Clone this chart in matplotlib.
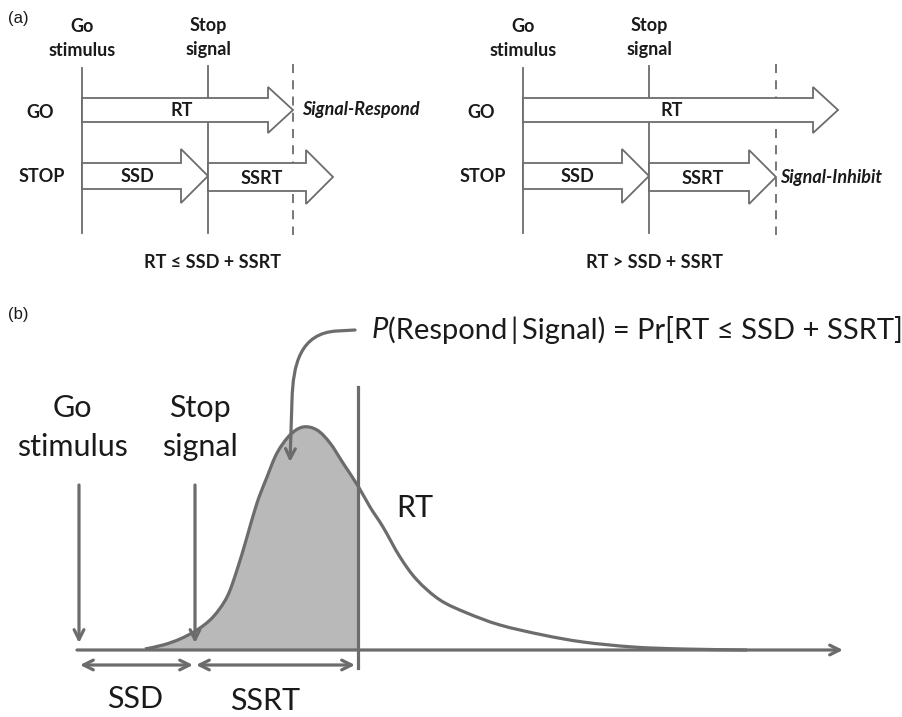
import matplotlib.pyplot as plt
import numpy as np
from matplotlib.patches import Polygon, FancyArrowPatch, PathPatch
from matplotlib.path import Path

plt.rcParams['font.family'] = ['Lato', 'DejaVu Sans']

# ---- panel (a): two timelines (pixel positions) ----
go_x = [82, 523]
stop_x = [208, 649]
dash_x = [293, 776]
rt_tip = [293, 838]
ssrt_tip = [333, 776]
rt_label_x = [182, 672]
ssd_label_x = [137, 577]
ssrt_label_x = [262, 703]
row_label_x = [40, 481]
outcome = ['Signal-Respond', 'Signal-Inhibit']
outcome_x = [302, 780]
outcome_y = [110, 177]
rule = ['RT ≤ SSD + SSRT', 'RT > SSD + SSRT']
rule_x = [213, 655]

# ---- panel (b): RT density (pixel coords of the drawn curve) ----
curve_x = np.array([145, 163, 180, 197, 213, 227, 237, 247, 257, 267, 277, 290, 303,
                    317, 330, 343, 358, 370, 383, 400, 417, 440, 467, 500, 543, 583,
                    633, 683, 747])
curve_y = np.array([649, 645, 639, 630, 617, 597, 570, 537, 503, 477, 453, 435, 427,
                    430, 443, 463, 486, 507, 527, 557, 580, 600, 613, 625, 635, 642,
                    647, 649, 650])
go_b, stop_b, cut_b = 79, 195, 358
base_y = 650

grey = '#6c6c6c'
ink = '#1a1a1a'

fig = plt.figure(figsize=(9.02, 7.17), dpi=100)
ax = fig.add_axes([0, 0, 1, 1])
ax.set_xlim(0, 902)
ax.set_ylim(717, 0)
ax.axis('off')


def block_arrow(x0, x1, yc, body, head, hlen):
    xh = x1 - hlen
    pts = [(x0, yc - body), (xh, yc - body), (xh, yc - head), (x1, yc),
           (xh, yc + head), (xh, yc + body), (x0, yc + body)]
    ax.add_patch(Polygon(pts, closed=True, facecolor='white', edgecolor=grey,
                         lw=1.3, zorder=3))


def smooth_path(xs, ys):
    # Catmull-Rom through the read points, as cubic Bezier segments
    pts = np.column_stack([xs, ys]).astype(float)
    verts = [pts[0]]
    codes = [Path.MOVETO]
    for i in range(len(pts) - 1):
        p0 = pts[max(i - 1, 0)]
        p1, p2 = pts[i], pts[i + 1]
        p3 = pts[min(i + 2, len(pts) - 1)]
        verts += [p1 + (p2 - p0) / 6, p2 - (p3 - p1) / 6, p2]
        codes += [Path.CURVE4] * 3
    return verts, codes


bold = dict(fontweight='bold', fontsize=13, color=ink, ha='center', va='center')
for i in range(2):
    ax.plot([go_x[i], go_x[i]], [68, 233], color=grey, lw=1.3, zorder=1)
    ax.plot([stop_x[i], stop_x[i]], [66, 233], color=grey, lw=1.3, zorder=1)
    ax.plot([dash_x[i], dash_x[i]], [64, 235], color=grey, lw=1.3, ls=(0, (5, 4)), zorder=1)
    block_arrow(go_x[i], rt_tip[i], 110, 12, 23, 25)
    block_arrow(go_x[i], stop_x[i], 176, 13, 27, 27)
    block_arrow(stop_x[i], ssrt_tip[i], 177, 14, 27, 27)
    ax.text(go_x[i], 27, 'Go', **bold)
    ax.text(go_x[i], 50, 'stimulus', **bold)
    ax.text(stop_x[i], 26, 'Stop', **bold)
    ax.text(stop_x[i], 49, 'signal', **bold)
    ax.text(row_label_x[i], 113, 'GO', **bold)
    ax.text(row_label_x[i] + 2, 176, 'STOP', **bold)
    ax.text(rt_label_x[i], 111, 'RT', zorder=4, **bold)
    ax.text(ssd_label_x[i], 176, 'SSD', zorder=4, **bold)
    ax.text(ssrt_label_x[i], 178, 'SSRT', zorder=4, **bold)
    ax.text(outcome_x[i], outcome_y[i], outcome[i], fontweight='bold', style='italic',
            fontsize=13, color=ink, ha='left', va='center')
    ax.text(rule_x[i], 262, rule[i], **bold)

ax.text(8, 18, '(a)', fontsize=12, family='Liberation Sans', color=ink, va='center')
ax.text(8, 315, '(b)', fontsize=12, family='Liberation Sans', color=ink, va='center')

# ---- panel (b) drawing ----
lw = 2.3
verts, codes = smooth_path(curve_x, curve_y)
n_cut = int(np.searchsorted(curve_x, cut_b))  # index of the point on the cut line
fill_v = verts[:3 * n_cut + 1] + [(cut_b, base_y), (curve_x[0], base_y), verts[0]]
fill_c = codes[:3 * n_cut + 1] + [Path.LINETO, Path.LINETO, Path.CLOSEPOLY]
ax.add_patch(PathPatch(Path(fill_v, fill_c), facecolor='#b9b9b9', lw=0, zorder=1))
ax.add_patch(PathPatch(Path(verts, codes), facecolor='none', edgecolor=grey, lw=lw,
                       zorder=3))

head = '->,head_length=0.7,head_width=0.35'
ax.annotate('', xy=(843, base_y), xytext=(77, base_y),
            arrowprops=dict(arrowstyle=head, color=grey, lw=lw, shrinkA=0, shrinkB=0),
            zorder=2)
ax.plot([cut_b, cut_b], [387, 668], color=grey, lw=lw, zorder=3)
for xa in (go_b, stop_b):
    ax.annotate('', xy=(xa, 643), xytext=(xa, 485),
                arrowprops=dict(arrowstyle=head, color=grey, lw=lw, shrinkA=0, shrinkB=0),
                zorder=4)
dbl = dict(arrowstyle='<->,head_length=0.7,head_width=0.35', color=grey, lw=lw,
           shrinkA=0, shrinkB=0)
ax.annotate('', xy=(193, 665), xytext=(80, 665), arrowprops=dbl)
ax.annotate('', xy=(355, 665), xytext=(196, 665), arrowprops=dbl)

big = dict(fontsize=22, color=ink, ha='center', va='center')
ax.text(72, 408, 'Go', **big)
ax.text(72, 447, 'stimulus', **big)
ax.text(200, 408, 'Stop', **big)
ax.text(200, 447, 'signal', **big)
ax.text(415, 508, 'RT', **big)
ax.text(135, 699, 'SSD', **big)
ax.text(265, 701, 'SSRT', **big)

# formula with curved pointer
p = ax.text(372, 330, 'P', style='italic', fontsize=21, color=ink, va='center')
fig.canvas.draw()
bb = p.get_window_extent(fig.canvas.get_renderer())
x_after = ax.transData.inverted().transform((bb.x1, bb.y0))[0]
ax.text(x_after, 330, '(Respond\u2009|\u2009Signal) = Pr[RT ≤ SSD + SSRT]', fontsize=21,
        color=ink, va='center')
hook = Path([(355, 330), (337, 331), (300, 333), (293, 365), (292, 400), (290, 462)],
            [Path.MOVETO, Path.LINETO, Path.CURVE4, Path.CURVE4, Path.CURVE4, Path.LINETO])
ax.add_patch(FancyArrowPatch(path=hook, arrowstyle=head, mutation_scale=10,
                             shrinkA=0, shrinkB=0, color=grey, lw=lw, zorder=5))

fig.savefig('out.png', dpi=100)
